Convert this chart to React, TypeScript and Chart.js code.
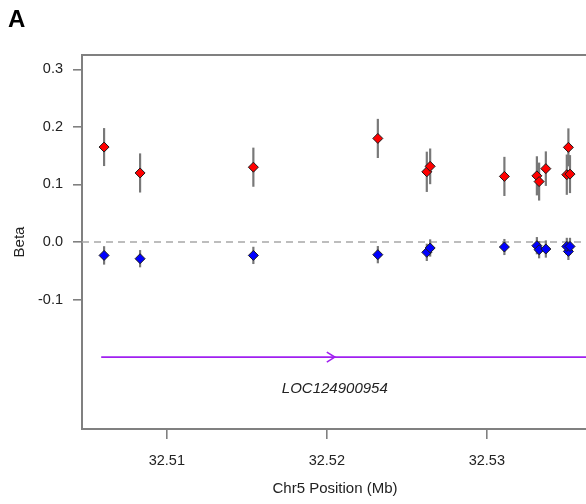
import React, { useEffect, useRef } from "react";
import { Chart, registerables } from "chart.js";

Chart.register(...registerables);

// SNP positions (Mb) shared by both series
const positions = [32.50608, 32.50833, 32.51541, 32.52319, 32.52625, 32.52646, 32.5311, 32.53313, 32.53327, 32.53369, 32.5351, 32.535, 32.5352];
// red series: beta and half-width of error bar
const redBeta = [0.165, 0.12, 0.13, 0.18, 0.122, 0.1315, 0.114, 0.115, 0.105, 0.1275, 0.1645, 0.117, 0.118];
const redErr = [0.033, 0.034, 0.034, 0.034, 0.035, 0.031, 0.034, 0.034, 0.033, 0.03, 0.033, 0.035, 0.033];
// blue series
const blueBeta = [-0.0233, -0.029, -0.0233, -0.022, -0.018, -0.0104, -0.0087, -0.0064, -0.0134, -0.0122, -0.0163, -0.0077, -0.0077];
const blueErr = [0.016, 0.015, 0.015, 0.015, 0.015, 0.015, 0.014, 0.015, 0.015, 0.015, 0.015, 0.015, 0.015];

const xTicks = [32.51, 32.52, 32.53];
const yTicks = [-0.1, 0, 0.1, 0.2, 0.3];
const xRange = [32.5047, 32.536325];
const yRange = [-0.325, 0.325];

const geneName = "LOC124900954";
const geneStart = 32.5059;
const geneEnd = 32.545;
const geneY = -0.2;
const geneArrowX = 32.5205;
const geneLabelY = -0.256;

const panelLabel = "A";
const xTitle = "Chr5 Position (Mb)";
const yTitle = "Beta";

const FONT = '"Liberation Sans", Arial, Helvetica, sans-serif';
const AXIS_COLOR = "#808080";
const TEXT_COLOR = "#222222";

const decor = {
  id: "decor",
  beforeDatasetDraw(chart: any, args: any) {
    if (args.index !== 1) return;
    const { ctx, scales } = chart;
    const x = scales.x;
    const y = scales.y;
    ctx.save();
    ctx.strokeStyle = "#787878";
    ctx.lineWidth = 2.2;
    const bars = (vals: number[], errs: number[]) => {
      vals.forEach((v, i) => {
        const px = x.getPixelForValue(positions[i]);
        ctx.beginPath();
        ctx.moveTo(px, y.getPixelForValue(v + errs[i]));
        ctx.lineTo(px, y.getPixelForValue(v - errs[i]));
        ctx.stroke();
      });
    };
    bars(redBeta, redErr);
    bars(blueBeta, blueErr);
    ctx.restore();
  },
  afterDatasetsDraw(chart: any) {
    const { ctx, scales } = chart;
    const x = scales.x;
    const y = scales.y;
    ctx.save();
    // arrow head
    const tx = x.getPixelForValue(geneArrowX);
    const ty = y.getPixelForValue(geneY);
    ctx.strokeStyle = "#a020f0";
    ctx.lineWidth = 1.6;
    ctx.beginPath();
    ctx.moveTo(tx - 8, ty - 5);
    ctx.lineTo(tx, ty);
    ctx.lineTo(tx - 8, ty + 5);
    ctx.stroke();
    // gene label
    ctx.fillStyle = TEXT_COLOR;
    ctx.font = `italic 15px ${FONT}`;
    ctx.textAlign = "center";
    ctx.textBaseline = "middle";
    ctx.fillText(geneName, tx, y.getPixelForValue(geneLabelY));
    ctx.restore();
  },
  afterDraw(chart: any) {
    const { ctx, chartArea } = chart;
    ctx.save();
    ctx.strokeStyle = AXIS_COLOR;
    ctx.lineWidth = 2;
    ctx.beginPath();
    ctx.moveTo(chartArea.left - 1, chartArea.top);
    ctx.lineTo(chartArea.right + 20, chartArea.top);
    ctx.stroke();
    ctx.fillStyle = "#000";
    ctx.font = `bold 24px ${FONT}`;
    ctx.textAlign = "left";
    ctx.textBaseline = "alphabetic";
    ctx.fillText(panelLabel, 8, 27);
    ctx.restore();
  },
};

export default function App() {
  const ref = useRef<HTMLCanvasElement>(null);
  useEffect(() => {
    if (!ref.current) return;
    const chart = new Chart(ref.current, {
      type: "scatter",
      data: {
        datasets: [
          {
            label: "red",
            data: positions.map((p, i) => ({ x: p, y: redBeta[i] })),
            backgroundColor: "#ff0000",
            borderColor: "#1a1a1a",
            borderWidth: 1,
            pointStyle: "rectRot",
            pointRadius: 5,
            order: 0,
          } as any,
          {
            label: "blue",
            data: positions.map((p, i) => ({ x: p, y: blueBeta[i] })),
            backgroundColor: "#0000ff",
            borderColor: "#1a1a1a",
            borderWidth: 1,
            pointStyle: "rectRot",
            pointRadius: 5,
            order: 1,
          } as any,
          {
            type: "line",
            label: "zero",
            data: [
              { x: xRange[0], y: 0 },
              { x: xRange[1], y: 0 },
            ],
            borderColor: "#a8a8a8",
            borderWidth: 1.6,
            borderDash: [7, 5],
            pointRadius: 0,
            order: 3,
          } as any,
          {
            type: "line",
            label: "gene",
            data: [
              { x: geneStart, y: geneY },
              { x: geneEnd, y: geneY },
            ],
            borderColor: "#a020f0",
            borderWidth: 1.6,
            pointRadius: 0,
            order: 4,
          } as any,
        ],
      },
      options: {
        responsive: false,
        animation: false,
        events: [],
        layout: { padding: { left: 0, top: 55, right: 12, bottom: 0 } },
        plugins: { legend: { display: false }, tooltip: { enabled: false }, title: { display: false } },
        scales: {
          x: {
            type: "linear",
            min: xRange[0],
            max: xRange[1],
            afterBuildTicks: (s: any) => {
              s.ticks = xTicks.map((v) => ({ value: v }));
            },
            afterFit: (s: any) => {
              s.height = 75;
            },
            grid: { drawOnChartArea: false, drawTicks: true, tickLength: 10, color: AXIS_COLOR, lineWidth: 1.6 },
            border: { display: true, color: AXIS_COLOR, width: 2 },
            ticks: {
              padding: 13,
              color: TEXT_COLOR,
              font: { family: FONT, size: 14.5 },
              maxRotation: 0,
              callback: (v: any) => Number(v).toFixed(2),
            },
            title: {
              display: true,
              text: xTitle,
              color: TEXT_COLOR,
              font: { family: FONT, size: 15 },
              padding: { top: 0, bottom: 6 },
            },
          },
          y: {
            type: "linear",
            min: yRange[0],
            max: yRange[1],
            afterBuildTicks: (s: any) => {
              s.ticks = yTicks.map((v) => ({ value: v }));
            },
            afterFit: (s: any) => {
              s.width = 82;
            },
            grid: { drawOnChartArea: false, drawTicks: true, tickLength: 9, color: AXIS_COLOR, lineWidth: 1.6 },
            border: { display: true, color: AXIS_COLOR, width: 2 },
            ticks: {
              padding: 10,
              color: TEXT_COLOR,
              font: { family: FONT, size: 14.5 },
              callback: (v: any) => Number(v).toFixed(1),
            },
            title: {
              display: true,
              text: yTitle,
              color: TEXT_COLOR,
              font: { family: FONT, size: 15 },
              padding: { top: 11, bottom: 0 },
            },
          },
        },
      } as any,
      plugins: [decor],
    });
    return () => chart.destroy();
  }, []);
  return (
    <div style={{ position: "fixed", left: 0, top: 0, width: 600, height: 504, overflow: "hidden", background: "#fff" }}>
      <canvas ref={ref} width={600} height={504} style={{ width: 600, height: 504, display: "block" }} />
    </div>
  );
}
